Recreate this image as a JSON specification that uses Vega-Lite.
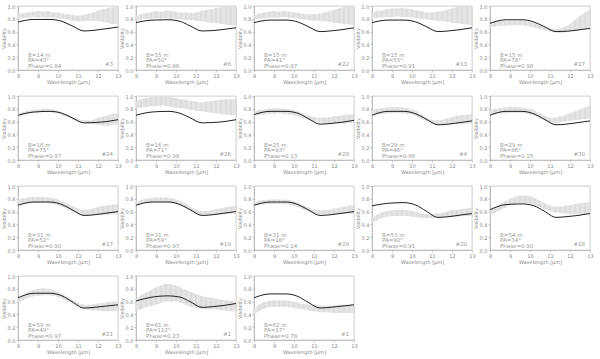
{
"$schema":"https://vega.github.io/schema/vega-lite/v6.json",
"padding":{"left":0,"top":3,"right":0,"bottom":0},
"background":"white",
"data":{"values":[
{"p":1,"k":"l","b":"B=14 m","pa":"PA=43°","ph":"Phase=0.84","n":"#3"},
{"p":2,"k":"l","b":"B=15 m","pa":"PA=50°","ph":"Phase=0.86","n":"#6"},
{"p":3,"k":"l","b":"B=15 m","pa":"PA=41°","ph":"Phase=0.97","n":"#22"},
{"p":4,"k":"l","b":"B=15 m","pa":"PA=55°","ph":"Phase=0.91","n":"#13"},
{"p":5,"k":"l","b":"B=15 m","pa":"PA=78°","ph":"Phase=0.98","n":"#27"},
{"p":6,"k":"l","b":"B=16 m","pa":"PA=75°","ph":"Phase=0.97","n":"#24"},
{"p":7,"k":"l","b":"B=16 m","pa":"PA=71°","ph":"Phase=0.98","n":"#26"},
{"p":8,"k":"l","b":"B=25 m","pa":"PA=93°","ph":"Phase=0.13","n":"#28"},
{"p":9,"k":"l","b":"B=29 m","pa":"PA=46°","ph":"Phase=0.86","n":"#4"},
{"p":10,"k":"l","b":"B=29 m","pa":"PA=86°","ph":"Phase=0.15","n":"#30"},
{"p":11,"k":"l","b":"B=31 m","pa":"PA=52°","ph":"Phase=0.90","n":"#17"},
{"p":12,"k":"l","b":"B=31 m","pa":"PA=59°","ph":"Phase=0.97","n":"#19"},
{"p":13,"k":"l","b":"B=31 m","pa":"PA=18°","ph":"Phase=0.14","n":"#29"},
{"p":14,"k":"l","b":"B=53 m","pa":"PA=90°","ph":"Phase=0.91","n":"#20"},
{"p":15,"k":"l","b":"B=54 m","pa":"PA=34°","ph":"Phase=0.90","n":"#18"},
{"p":16,"k":"l","b":"B=59 m","pa":"PA=49°","ph":"Phase=0.97","n":"#21"},
{"p":17,"k":"l","b":"B=61 m","pa":"PA=112°","ph":"Phase=0.23","n":"#1"},
{"p":18,"k":"l","b":"B=62 m","pa":"PA=17°","ph":"Phase=0.78","n":"#1"},

{"p":1,"k":"m","w":8,"v":0.75},{"p":1,"k":"m","w":8.8,"v":0.79},{"p":1,"k":"m","w":9.6,"v":0.79},{"p":1,"k":"m","w":10.2,"v":0.76},{"p":1,"k":"m","w":10.7,"v":0.69},{"p":1,"k":"m","w":11.3,"v":0.61},{"p":1,"k":"m","w":11.8,"v":0.62},{"p":1,"k":"m","w":12.4,"v":0.645},{"p":1,"k":"m","w":13,"v":0.67},
{"p":2,"k":"m","w":8,"v":0.74},{"p":2,"k":"m","w":8.8,"v":0.78},{"p":2,"k":"m","w":9.6,"v":0.785},{"p":2,"k":"m","w":10.2,"v":0.76},{"p":2,"k":"m","w":10.7,"v":0.69},{"p":2,"k":"m","w":11.3,"v":0.61},{"p":2,"k":"m","w":11.8,"v":0.615},{"p":2,"k":"m","w":12.4,"v":0.635},{"p":2,"k":"m","w":13,"v":0.66},
{"p":3,"k":"m","w":8,"v":0.74},{"p":3,"k":"m","w":8.8,"v":0.78},{"p":3,"k":"m","w":9.6,"v":0.78},{"p":3,"k":"m","w":10.2,"v":0.75},{"p":3,"k":"m","w":10.7,"v":0.68},{"p":3,"k":"m","w":11.3,"v":0.60},{"p":3,"k":"m","w":11.8,"v":0.61},{"p":3,"k":"m","w":12.4,"v":0.63},{"p":3,"k":"m","w":13,"v":0.66},
{"p":4,"k":"m","w":8,"v":0.74},{"p":4,"k":"m","w":8.8,"v":0.78},{"p":4,"k":"m","w":9.6,"v":0.78},{"p":4,"k":"m","w":10.2,"v":0.75},{"p":4,"k":"m","w":10.7,"v":0.68},{"p":4,"k":"m","w":11.3,"v":0.60},{"p":4,"k":"m","w":11.8,"v":0.61},{"p":4,"k":"m","w":12.4,"v":0.63},{"p":4,"k":"m","w":13,"v":0.66},
{"p":5,"k":"m","w":8,"v":0.73},{"p":5,"k":"m","w":8.8,"v":0.785},{"p":5,"k":"m","w":9.6,"v":0.785},{"p":5,"k":"m","w":10.2,"v":0.75},{"p":5,"k":"m","w":10.7,"v":0.68},{"p":5,"k":"m","w":11.3,"v":0.60},{"p":5,"k":"m","w":11.8,"v":0.605},{"p":5,"k":"m","w":12.4,"v":0.625},{"p":5,"k":"m","w":13,"v":0.65},
{"p":6,"k":"m","w":8,"v":0.70},{"p":6,"k":"m","w":8.8,"v":0.75},{"p":6,"k":"m","w":9.6,"v":0.76},{"p":6,"k":"m","w":10.2,"v":0.73},{"p":6,"k":"m","w":10.7,"v":0.66},{"p":6,"k":"m","w":11.3,"v":0.58},{"p":6,"k":"m","w":11.8,"v":0.585},{"p":6,"k":"m","w":12.4,"v":0.60},{"p":6,"k":"m","w":13,"v":0.63},
{"p":7,"k":"m","w":8,"v":0.70},{"p":7,"k":"m","w":8.8,"v":0.75},{"p":7,"k":"m","w":9.6,"v":0.76},{"p":7,"k":"m","w":10.2,"v":0.73},{"p":7,"k":"m","w":10.7,"v":0.66},{"p":7,"k":"m","w":11.3,"v":0.58},{"p":7,"k":"m","w":11.8,"v":0.585},{"p":7,"k":"m","w":12.4,"v":0.60},{"p":7,"k":"m","w":13,"v":0.63},
{"p":8,"k":"m","w":8,"v":0.71},{"p":8,"k":"m","w":8.8,"v":0.76},{"p":8,"k":"m","w":9.6,"v":0.76},{"p":8,"k":"m","w":10.2,"v":0.73},{"p":8,"k":"m","w":10.7,"v":0.65},{"p":8,"k":"m","w":11.3,"v":0.56},{"p":8,"k":"m","w":11.8,"v":0.57},{"p":8,"k":"m","w":12.4,"v":0.59},{"p":8,"k":"m","w":13,"v":0.62},
{"p":9,"k":"m","w":8,"v":0.70},{"p":9,"k":"m","w":8.8,"v":0.76},{"p":9,"k":"m","w":9.6,"v":0.76},{"p":9,"k":"m","w":10.2,"v":0.72},{"p":9,"k":"m","w":10.7,"v":0.64},{"p":9,"k":"m","w":11.3,"v":0.55},{"p":9,"k":"m","w":11.8,"v":0.56},{"p":9,"k":"m","w":12.4,"v":0.585},{"p":9,"k":"m","w":13,"v":0.61},
{"p":10,"k":"m","w":8,"v":0.70},{"p":10,"k":"m","w":8.8,"v":0.76},{"p":10,"k":"m","w":9.6,"v":0.76},{"p":10,"k":"m","w":10.2,"v":0.72},{"p":10,"k":"m","w":10.7,"v":0.64},{"p":10,"k":"m","w":11.3,"v":0.55},{"p":10,"k":"m","w":11.8,"v":0.56},{"p":10,"k":"m","w":12.4,"v":0.585},{"p":10,"k":"m","w":13,"v":0.61},
{"p":11,"k":"m","w":8,"v":0.70},{"p":11,"k":"m","w":8.8,"v":0.75},{"p":11,"k":"m","w":9.6,"v":0.75},{"p":11,"k":"m","w":10.2,"v":0.71},{"p":11,"k":"m","w":10.7,"v":0.63},{"p":11,"k":"m","w":11.3,"v":0.54},{"p":11,"k":"m","w":11.8,"v":0.55},{"p":11,"k":"m","w":12.4,"v":0.575},{"p":11,"k":"m","w":13,"v":0.60},
{"p":12,"k":"m","w":8,"v":0.70},{"p":12,"k":"m","w":8.8,"v":0.75},{"p":12,"k":"m","w":9.6,"v":0.75},{"p":12,"k":"m","w":10.2,"v":0.71},{"p":12,"k":"m","w":10.7,"v":0.63},{"p":12,"k":"m","w":11.3,"v":0.54},{"p":12,"k":"m","w":11.8,"v":0.55},{"p":12,"k":"m","w":12.4,"v":0.575},{"p":12,"k":"m","w":13,"v":0.60},
{"p":13,"k":"m","w":8,"v":0.70},{"p":13,"k":"m","w":8.8,"v":0.75},{"p":13,"k":"m","w":9.6,"v":0.75},{"p":13,"k":"m","w":10.2,"v":0.71},{"p":13,"k":"m","w":10.7,"v":0.63},{"p":13,"k":"m","w":11.3,"v":0.54},{"p":13,"k":"m","w":11.8,"v":0.55},{"p":13,"k":"m","w":12.4,"v":0.575},{"p":13,"k":"m","w":13,"v":0.60},
{"p":14,"k":"m","w":8,"v":0.69},{"p":14,"k":"m","w":8.8,"v":0.73},{"p":14,"k":"m","w":9.6,"v":0.74},{"p":14,"k":"m","w":10.2,"v":0.70},{"p":14,"k":"m","w":10.7,"v":0.61},{"p":14,"k":"m","w":11.3,"v":0.51},{"p":14,"k":"m","w":11.8,"v":0.52},{"p":14,"k":"m","w":12.4,"v":0.545},{"p":14,"k":"m","w":13,"v":0.57},
{"p":15,"k":"m","w":8,"v":0.63},{"p":15,"k":"m","w":8.8,"v":0.71},{"p":15,"k":"m","w":9.6,"v":0.72},{"p":15,"k":"m","w":10.2,"v":0.69},{"p":15,"k":"m","w":10.7,"v":0.61},{"p":15,"k":"m","w":11.3,"v":0.51},{"p":15,"k":"m","w":11.8,"v":0.52},{"p":15,"k":"m","w":12.4,"v":0.54},{"p":15,"k":"m","w":13,"v":0.57},
{"p":16,"k":"m","w":8,"v":0.66},{"p":16,"k":"m","w":8.8,"v":0.73},{"p":16,"k":"m","w":9.6,"v":0.73},{"p":16,"k":"m","w":10.2,"v":0.69},{"p":16,"k":"m","w":10.7,"v":0.60},{"p":16,"k":"m","w":11.3,"v":0.50},{"p":16,"k":"m","w":11.8,"v":0.51},{"p":16,"k":"m","w":12.4,"v":0.53},{"p":16,"k":"m","w":13,"v":0.55},
{"p":17,"k":"m","w":8,"v":0.61},{"p":17,"k":"m","w":8.8,"v":0.67},{"p":17,"k":"m","w":9.6,"v":0.69},{"p":17,"k":"m","w":10.2,"v":0.67},{"p":17,"k":"m","w":10.7,"v":0.60},{"p":17,"k":"m","w":11.3,"v":0.51},{"p":17,"k":"m","w":11.8,"v":0.52},{"p":17,"k":"m","w":12.4,"v":0.54},{"p":17,"k":"m","w":13,"v":0.57},
{"p":18,"k":"m","w":8,"v":0.66},{"p":18,"k":"m","w":8.8,"v":0.72},{"p":18,"k":"m","w":9.6,"v":0.72},{"p":18,"k":"m","w":10.2,"v":0.68},{"p":18,"k":"m","w":10.7,"v":0.59},{"p":18,"k":"m","w":11.3,"v":0.50},{"p":18,"k":"m","w":11.8,"v":0.51},{"p":18,"k":"m","w":12.4,"v":0.53},{"p":18,"k":"m","w":13,"v":0.55},

{"p":1,"k":"d","w":8,"lo":0.80,"hi":0.87},{"p":1,"k":"d","w":8.25,"lo":0.81,"hi":0.89},{"p":1,"k":"d","w":8.5,"lo":0.82,"hi":0.90},{"p":1,"k":"d","w":8.75,"lo":0.83,"hi":0.91},{"p":1,"k":"d","w":9,"lo":0.82,"hi":0.92},{"p":1,"k":"d","w":9.25,"lo":0.83,"hi":0.91},{"p":1,"k":"d","w":9.5,"lo":0.82,"hi":0.92},{"p":1,"k":"d","w":9.75,"lo":0.82,"hi":0.90},{"p":1,"k":"d","w":10,"lo":0.81,"hi":0.90},{"p":1,"k":"d","w":10.25,"lo":0.80,"hi":0.88},{"p":1,"k":"d","w":10.5,"lo":0.79,"hi":0.87},{"p":1,"k":"d","w":10.75,"lo":0.77,"hi":0.86},{"p":1,"k":"d","w":11,"lo":0.76,"hi":0.85},{"p":1,"k":"d","w":11.25,"lo":0.76,"hi":0.86},{"p":1,"k":"d","w":11.5,"lo":0.77,"hi":0.88},{"p":1,"k":"d","w":11.75,"lo":0.77,"hi":0.90},{"p":1,"k":"d","w":12,"lo":0.76,"hi":0.93},{"p":1,"k":"d","w":12.25,"lo":0.75,"hi":0.95},{"p":1,"k":"d","w":12.5,"lo":0.74,"hi":0.97},{"p":1,"k":"d","w":12.75,"lo":0.72,"hi":0.98},{"p":1,"k":"d","w":13,"lo":0.72,"hi":1.0},
{"p":2,"k":"d","w":8,"lo":0.78,"hi":0.85},{"p":2,"k":"d","w":8.25,"lo":0.79,"hi":0.87},{"p":2,"k":"d","w":8.5,"lo":0.80,"hi":0.89},{"p":2,"k":"d","w":8.75,"lo":0.80,"hi":0.90},{"p":2,"k":"d","w":9,"lo":0.81,"hi":0.92},{"p":2,"k":"d","w":9.25,"lo":0.80,"hi":0.91},{"p":2,"k":"d","w":9.5,"lo":0.81,"hi":0.93},{"p":2,"k":"d","w":9.75,"lo":0.80,"hi":0.92},{"p":2,"k":"d","w":10,"lo":0.80,"hi":0.91},{"p":2,"k":"d","w":10.25,"lo":0.79,"hi":0.90},{"p":2,"k":"d","w":10.5,"lo":0.78,"hi":0.90},{"p":2,"k":"d","w":10.75,"lo":0.78,"hi":0.89},{"p":2,"k":"d","w":11,"lo":0.77,"hi":0.90},{"p":2,"k":"d","w":11.25,"lo":0.76,"hi":0.92},{"p":2,"k":"d","w":11.5,"lo":0.75,"hi":0.94},{"p":2,"k":"d","w":11.75,"lo":0.74,"hi":0.95},{"p":2,"k":"d","w":12,"lo":0.73,"hi":0.97},{"p":2,"k":"d","w":12.25,"lo":0.72,"hi":0.98},{"p":2,"k":"d","w":12.5,"lo":0.71,"hi":1.0},{"p":2,"k":"d","w":12.75,"lo":0.70,"hi":0.99},{"p":2,"k":"d","w":13,"lo":0.70,"hi":1.0},
{"p":3,"k":"d","w":8,"lo":0.79,"hi":0.86},{"p":3,"k":"d","w":8.25,"lo":0.80,"hi":0.88},{"p":3,"k":"d","w":8.5,"lo":0.81,"hi":0.90},{"p":3,"k":"d","w":8.75,"lo":0.82,"hi":0.91},{"p":3,"k":"d","w":9,"lo":0.82,"hi":0.92},{"p":3,"k":"d","w":9.25,"lo":0.82,"hi":0.91},{"p":3,"k":"d","w":9.5,"lo":0.83,"hi":0.92},{"p":3,"k":"d","w":9.75,"lo":0.82,"hi":0.91},{"p":3,"k":"d","w":10,"lo":0.81,"hi":0.90},{"p":3,"k":"d","w":10.25,"lo":0.80,"hi":0.89},{"p":3,"k":"d","w":10.5,"lo":0.79,"hi":0.88},{"p":3,"k":"d","w":10.75,"lo":0.78,"hi":0.87},{"p":3,"k":"d","w":11,"lo":0.77,"hi":0.87},{"p":3,"k":"d","w":11.25,"lo":0.77,"hi":0.88},{"p":3,"k":"d","w":11.5,"lo":0.76,"hi":0.90},{"p":3,"k":"d","w":11.75,"lo":0.75,"hi":0.92},{"p":3,"k":"d","w":12,"lo":0.74,"hi":0.94},{"p":3,"k":"d","w":12.25,"lo":0.73,"hi":0.96},{"p":3,"k":"d","w":12.5,"lo":0.72,"hi":0.98},{"p":3,"k":"d","w":12.75,"lo":0.71,"hi":0.99},{"p":3,"k":"d","w":13,"lo":0.70,"hi":1.0},
{"p":4,"k":"d","w":8,"lo":0.80,"hi":0.90},{"p":4,"k":"d","w":8.25,"lo":0.81,"hi":0.92},{"p":4,"k":"d","w":8.5,"lo":0.82,"hi":0.93},{"p":4,"k":"d","w":8.75,"lo":0.83,"hi":0.95},{"p":4,"k":"d","w":9,"lo":0.83,"hi":0.96},{"p":4,"k":"d","w":9.25,"lo":0.84,"hi":0.96},{"p":4,"k":"d","w":9.5,"lo":0.83,"hi":0.97},{"p":4,"k":"d","w":9.75,"lo":0.83,"hi":0.96},{"p":4,"k":"d","w":10,"lo":0.82,"hi":0.95},{"p":4,"k":"d","w":10.25,"lo":0.81,"hi":0.93},{"p":4,"k":"d","w":10.5,"lo":0.80,"hi":0.92},{"p":4,"k":"d","w":10.75,"lo":0.79,"hi":0.90},{"p":4,"k":"d","w":11,"lo":0.78,"hi":0.90},{"p":4,"k":"d","w":11.25,"lo":0.77,"hi":0.91},{"p":4,"k":"d","w":11.5,"lo":0.76,"hi":0.92},{"p":4,"k":"d","w":11.75,"lo":0.75,"hi":0.94},{"p":4,"k":"d","w":12,"lo":0.74,"hi":0.96},{"p":4,"k":"d","w":12.25,"lo":0.73,"hi":0.98},{"p":4,"k":"d","w":12.5,"lo":0.72,"hi":0.99},{"p":4,"k":"d","w":12.75,"lo":0.71,"hi":1.0},{"p":4,"k":"d","w":13,"lo":0.70,"hi":1.0},
{"p":5,"k":"d","w":8,"lo":0.67,"hi":0.73},{"p":5,"k":"d","w":8.25,"lo":0.68,"hi":0.75},{"p":5,"k":"d","w":8.5,"lo":0.69,"hi":0.76},{"p":5,"k":"d","w":8.75,"lo":0.69,"hi":0.76},{"p":5,"k":"d","w":9,"lo":0.70,"hi":0.77},{"p":5,"k":"d","w":9.25,"lo":0.70,"hi":0.77},{"p":5,"k":"d","w":9.5,"lo":0.70,"hi":0.77},{"p":5,"k":"d","w":9.75,"lo":0.69,"hi":0.76},{"p":5,"k":"d","w":10,"lo":0.68,"hi":0.75},{"p":5,"k":"d","w":10.25,"lo":0.66,"hi":0.73},{"p":5,"k":"d","w":10.5,"lo":0.64,"hi":0.70},{"p":5,"k":"d","w":10.75,"lo":0.62,"hi":0.67},{"p":5,"k":"d","w":11,"lo":0.60,"hi":0.65},{"p":5,"k":"d","w":11.25,"lo":0.59,"hi":0.64},{"p":5,"k":"d","w":11.5,"lo":0.58,"hi":0.65},{"p":5,"k":"d","w":11.75,"lo":0.59,"hi":0.68},{"p":5,"k":"d","w":12,"lo":0.60,"hi":0.72},{"p":5,"k":"d","w":12.25,"lo":0.61,"hi":0.78},{"p":5,"k":"d","w":12.5,"lo":0.62,"hi":0.85},{"p":5,"k":"d","w":12.75,"lo":0.64,"hi":0.90},{"p":5,"k":"d","w":13,"lo":0.65,"hi":0.95},
{"p":6,"k":"d","w":8,"lo":0.68,"hi":0.73},{"p":6,"k":"d","w":8.25,"lo":0.70,"hi":0.75},{"p":6,"k":"d","w":8.5,"lo":0.72,"hi":0.77},{"p":6,"k":"d","w":8.75,"lo":0.74,"hi":0.78},{"p":6,"k":"d","w":9,"lo":0.74,"hi":0.79},{"p":6,"k":"d","w":9.25,"lo":0.75,"hi":0.80},{"p":6,"k":"d","w":9.5,"lo":0.75,"hi":0.80},{"p":6,"k":"d","w":9.75,"lo":0.74,"hi":0.79},{"p":6,"k":"d","w":10,"lo":0.73,"hi":0.77},{"p":6,"k":"d","w":10.25,"lo":0.70,"hi":0.74},{"p":6,"k":"d","w":10.5,"lo":0.67,"hi":0.71},{"p":6,"k":"d","w":10.75,"lo":0.63,"hi":0.67},{"p":6,"k":"d","w":11,"lo":0.60,"hi":0.64},{"p":6,"k":"d","w":11.25,"lo":0.58,"hi":0.62},{"p":6,"k":"d","w":11.5,"lo":0.57,"hi":0.62},{"p":6,"k":"d","w":11.75,"lo":0.56,"hi":0.63},{"p":6,"k":"d","w":12,"lo":0.55,"hi":0.66},{"p":6,"k":"d","w":12.25,"lo":0.54,"hi":0.68},{"p":6,"k":"d","w":12.5,"lo":0.54,"hi":0.70},{"p":6,"k":"d","w":12.75,"lo":0.55,"hi":0.72},{"p":6,"k":"d","w":13,"lo":0.56,"hi":0.73},
{"p":7,"k":"d","w":8,"lo":0.80,"hi":0.92},{"p":7,"k":"d","w":8.25,"lo":0.82,"hi":0.95},{"p":7,"k":"d","w":8.5,"lo":0.83,"hi":0.97},{"p":7,"k":"d","w":8.75,"lo":0.84,"hi":0.98},{"p":7,"k":"d","w":9,"lo":0.84,"hi":1.0},{"p":7,"k":"d","w":9.25,"lo":0.85,"hi":0.99},{"p":7,"k":"d","w":9.5,"lo":0.84,"hi":1.0},{"p":7,"k":"d","w":9.75,"lo":0.83,"hi":0.98},{"p":7,"k":"d","w":10,"lo":0.82,"hi":0.97},{"p":7,"k":"d","w":10.25,"lo":0.81,"hi":0.95},{"p":7,"k":"d","w":10.5,"lo":0.80,"hi":0.94},{"p":7,"k":"d","w":10.75,"lo":0.78,"hi":0.92},{"p":7,"k":"d","w":11,"lo":0.77,"hi":0.91},{"p":7,"k":"d","w":11.25,"lo":0.76,"hi":0.90},{"p":7,"k":"d","w":11.5,"lo":0.75,"hi":0.91},{"p":7,"k":"d","w":11.75,"lo":0.74,"hi":0.92},{"p":7,"k":"d","w":12,"lo":0.73,"hi":0.93},{"p":7,"k":"d","w":12.25,"lo":0.72,"hi":0.94},{"p":7,"k":"d","w":12.5,"lo":0.71,"hi":0.95},{"p":7,"k":"d","w":12.75,"lo":0.70,"hi":0.95},{"p":7,"k":"d","w":13,"lo":0.70,"hi":0.96},
{"p":8,"k":"d","w":8,"lo":0.69,"hi":0.76},{"p":8,"k":"d","w":8.25,"lo":0.70,"hi":0.78},{"p":8,"k":"d","w":8.5,"lo":0.71,"hi":0.79},{"p":8,"k":"d","w":8.75,"lo":0.72,"hi":0.80},{"p":8,"k":"d","w":9,"lo":0.72,"hi":0.81},{"p":8,"k":"d","w":9.25,"lo":0.73,"hi":0.81},{"p":8,"k":"d","w":9.5,"lo":0.72,"hi":0.80},{"p":8,"k":"d","w":9.75,"lo":0.71,"hi":0.79},{"p":8,"k":"d","w":10,"lo":0.70,"hi":0.78},{"p":8,"k":"d","w":10.25,"lo":0.68,"hi":0.75},{"p":8,"k":"d","w":10.5,"lo":0.65,"hi":0.72},{"p":8,"k":"d","w":10.75,"lo":0.62,"hi":0.69},{"p":8,"k":"d","w":11,"lo":0.60,"hi":0.67},{"p":8,"k":"d","w":11.25,"lo":0.59,"hi":0.66},{"p":8,"k":"d","w":11.5,"lo":0.58,"hi":0.66},{"p":8,"k":"d","w":11.75,"lo":0.58,"hi":0.67},{"p":8,"k":"d","w":12,"lo":0.57,"hi":0.68},{"p":8,"k":"d","w":12.25,"lo":0.57,"hi":0.69},{"p":8,"k":"d","w":12.5,"lo":0.57,"hi":0.70},{"p":8,"k":"d","w":12.75,"lo":0.58,"hi":0.71},{"p":8,"k":"d","w":13,"lo":0.58,"hi":0.72},
{"p":9,"k":"d","w":8,"lo":0.70,"hi":0.78},{"p":9,"k":"d","w":8.25,"lo":0.71,"hi":0.80},{"p":9,"k":"d","w":8.5,"lo":0.72,"hi":0.81},{"p":9,"k":"d","w":8.75,"lo":0.73,"hi":0.82},{"p":9,"k":"d","w":9,"lo":0.73,"hi":0.83},{"p":9,"k":"d","w":9.25,"lo":0.74,"hi":0.83},{"p":9,"k":"d","w":9.5,"lo":0.73,"hi":0.82},{"p":9,"k":"d","w":9.75,"lo":0.72,"hi":0.81},{"p":9,"k":"d","w":10,"lo":0.71,"hi":0.79},{"p":9,"k":"d","w":10.25,"lo":0.68,"hi":0.76},{"p":9,"k":"d","w":10.5,"lo":0.64,"hi":0.71},{"p":9,"k":"d","w":10.75,"lo":0.60,"hi":0.66},{"p":9,"k":"d","w":11,"lo":0.57,"hi":0.63},{"p":9,"k":"d","w":11.25,"lo":0.56,"hi":0.62},{"p":9,"k":"d","w":11.5,"lo":0.56,"hi":0.63},{"p":9,"k":"d","w":11.75,"lo":0.56,"hi":0.65},{"p":9,"k":"d","w":12,"lo":0.56,"hi":0.67},{"p":9,"k":"d","w":12.25,"lo":0.56,"hi":0.69},{"p":9,"k":"d","w":12.5,"lo":0.56,"hi":0.70},{"p":9,"k":"d","w":12.75,"lo":0.57,"hi":0.71},{"p":9,"k":"d","w":13,"lo":0.57,"hi":0.72},
{"p":10,"k":"d","w":8,"lo":0.70,"hi":0.78},{"p":10,"k":"d","w":8.25,"lo":0.71,"hi":0.80},{"p":10,"k":"d","w":8.5,"lo":0.73,"hi":0.81},{"p":10,"k":"d","w":8.75,"lo":0.73,"hi":0.82},{"p":10,"k":"d","w":9,"lo":0.74,"hi":0.83},{"p":10,"k":"d","w":9.25,"lo":0.74,"hi":0.83},{"p":10,"k":"d","w":9.5,"lo":0.74,"hi":0.82},{"p":10,"k":"d","w":9.75,"lo":0.73,"hi":0.81},{"p":10,"k":"d","w":10,"lo":0.71,"hi":0.80},{"p":10,"k":"d","w":10.25,"lo":0.69,"hi":0.77},{"p":10,"k":"d","w":10.5,"lo":0.65,"hi":0.73},{"p":10,"k":"d","w":10.75,"lo":0.62,"hi":0.69},{"p":10,"k":"d","w":11,"lo":0.59,"hi":0.66},{"p":10,"k":"d","w":11.25,"lo":0.58,"hi":0.66},{"p":10,"k":"d","w":11.5,"lo":0.59,"hi":0.68},{"p":10,"k":"d","w":11.75,"lo":0.60,"hi":0.70},{"p":10,"k":"d","w":12,"lo":0.61,"hi":0.73},{"p":10,"k":"d","w":12.25,"lo":0.62,"hi":0.76},{"p":10,"k":"d","w":12.5,"lo":0.63,"hi":0.79},{"p":10,"k":"d","w":12.75,"lo":0.64,"hi":0.82},{"p":10,"k":"d","w":13,"lo":0.65,"hi":0.85},
{"p":11,"k":"d","w":8,"lo":0.70,"hi":0.79},{"p":11,"k":"d","w":8.25,"lo":0.72,"hi":0.81},{"p":11,"k":"d","w":8.5,"lo":0.73,"hi":0.82},{"p":11,"k":"d","w":8.75,"lo":0.74,"hi":0.83},{"p":11,"k":"d","w":9,"lo":0.74,"hi":0.83},{"p":11,"k":"d","w":9.25,"lo":0.74,"hi":0.83},{"p":11,"k":"d","w":9.5,"lo":0.73,"hi":0.82},{"p":11,"k":"d","w":9.75,"lo":0.72,"hi":0.81},{"p":11,"k":"d","w":10,"lo":0.70,"hi":0.79},{"p":11,"k":"d","w":10.25,"lo":0.67,"hi":0.76},{"p":11,"k":"d","w":10.5,"lo":0.63,"hi":0.72},{"p":11,"k":"d","w":10.75,"lo":0.59,"hi":0.68},{"p":11,"k":"d","w":11,"lo":0.56,"hi":0.65},{"p":11,"k":"d","w":11.25,"lo":0.55,"hi":0.63},{"p":11,"k":"d","w":11.5,"lo":0.55,"hi":0.63},{"p":11,"k":"d","w":11.75,"lo":0.55,"hi":0.65},{"p":11,"k":"d","w":12,"lo":0.55,"hi":0.67},{"p":11,"k":"d","w":12.25,"lo":0.55,"hi":0.69},{"p":11,"k":"d","w":12.5,"lo":0.55,"hi":0.70},{"p":11,"k":"d","w":12.75,"lo":0.56,"hi":0.71},{"p":11,"k":"d","w":13,"lo":0.56,"hi":0.72},
{"p":12,"k":"d","w":8,"lo":0.70,"hi":0.76},{"p":12,"k":"d","w":8.25,"lo":0.72,"hi":0.78},{"p":12,"k":"d","w":8.5,"lo":0.73,"hi":0.80},{"p":12,"k":"d","w":8.75,"lo":0.74,"hi":0.81},{"p":12,"k":"d","w":9,"lo":0.75,"hi":0.82},{"p":12,"k":"d","w":9.25,"lo":0.75,"hi":0.82},{"p":12,"k":"d","w":9.5,"lo":0.75,"hi":0.82},{"p":12,"k":"d","w":9.75,"lo":0.74,"hi":0.81},{"p":12,"k":"d","w":10,"lo":0.72,"hi":0.79},{"p":12,"k":"d","w":10.25,"lo":0.69,"hi":0.76},{"p":12,"k":"d","w":10.5,"lo":0.65,"hi":0.72},{"p":12,"k":"d","w":10.75,"lo":0.61,"hi":0.67},{"p":12,"k":"d","w":11,"lo":0.57,"hi":0.63},{"p":12,"k":"d","w":11.25,"lo":0.55,"hi":0.61},{"p":12,"k":"d","w":11.5,"lo":0.55,"hi":0.61},{"p":12,"k":"d","w":11.75,"lo":0.55,"hi":0.62},{"p":12,"k":"d","w":12,"lo":0.55,"hi":0.64},{"p":12,"k":"d","w":12.25,"lo":0.56,"hi":0.65},{"p":12,"k":"d","w":12.5,"lo":0.56,"hi":0.67},{"p":12,"k":"d","w":12.75,"lo":0.57,"hi":0.68},{"p":12,"k":"d","w":13,"lo":0.57,"hi":0.69},
{"p":13,"k":"d","w":8,"lo":0.68,"hi":0.75},{"p":13,"k":"d","w":8.25,"lo":0.70,"hi":0.77},{"p":13,"k":"d","w":8.5,"lo":0.71,"hi":0.78},{"p":13,"k":"d","w":8.75,"lo":0.72,"hi":0.79},{"p":13,"k":"d","w":9,"lo":0.72,"hi":0.79},{"p":13,"k":"d","w":9.25,"lo":0.72,"hi":0.79},{"p":13,"k":"d","w":9.5,"lo":0.72,"hi":0.79},{"p":13,"k":"d","w":9.75,"lo":0.71,"hi":0.78},{"p":13,"k":"d","w":10,"lo":0.69,"hi":0.76},{"p":13,"k":"d","w":10.25,"lo":0.66,"hi":0.73},{"p":13,"k":"d","w":10.5,"lo":0.63,"hi":0.69},{"p":13,"k":"d","w":10.75,"lo":0.60,"hi":0.66},{"p":13,"k":"d","w":11,"lo":0.58,"hi":0.63},{"p":13,"k":"d","w":11.25,"lo":0.56,"hi":0.62},{"p":13,"k":"d","w":11.5,"lo":0.56,"hi":0.62},{"p":13,"k":"d","w":11.75,"lo":0.56,"hi":0.63},{"p":13,"k":"d","w":12,"lo":0.56,"hi":0.65},{"p":13,"k":"d","w":12.25,"lo":0.56,"hi":0.66},{"p":13,"k":"d","w":12.5,"lo":0.56,"hi":0.68},{"p":13,"k":"d","w":12.75,"lo":0.57,"hi":0.69},{"p":13,"k":"d","w":13,"lo":0.57,"hi":0.70},
{"p":14,"k":"d","w":8,"lo":0.42,"hi":0.50},{"p":14,"k":"d","w":8.25,"lo":0.46,"hi":0.55},{"p":14,"k":"d","w":8.5,"lo":0.50,"hi":0.59},{"p":14,"k":"d","w":8.75,"lo":0.52,"hi":0.61},{"p":14,"k":"d","w":9,"lo":0.53,"hi":0.62},{"p":14,"k":"d","w":9.25,"lo":0.53,"hi":0.63},{"p":14,"k":"d","w":9.5,"lo":0.53,"hi":0.63},{"p":14,"k":"d","w":9.75,"lo":0.53,"hi":0.62},{"p":14,"k":"d","w":10,"lo":0.52,"hi":0.61},{"p":14,"k":"d","w":10.25,"lo":0.51,"hi":0.59},{"p":14,"k":"d","w":10.5,"lo":0.50,"hi":0.57},{"p":14,"k":"d","w":10.75,"lo":0.50,"hi":0.56},{"p":14,"k":"d","w":11,"lo":0.50,"hi":0.56},{"p":14,"k":"d","w":11.25,"lo":0.51,"hi":0.57},{"p":14,"k":"d","w":11.5,"lo":0.52,"hi":0.58},{"p":14,"k":"d","w":11.75,"lo":0.52,"hi":0.60},{"p":14,"k":"d","w":12,"lo":0.52,"hi":0.62},{"p":14,"k":"d","w":12.25,"lo":0.52,"hi":0.63},{"p":14,"k":"d","w":12.5,"lo":0.53,"hi":0.64},{"p":14,"k":"d","w":12.75,"lo":0.53,"hi":0.65},{"p":14,"k":"d","w":13,"lo":0.53,"hi":0.66},
{"p":15,"k":"d","w":8,"lo":0.55,"hi":0.62},{"p":15,"k":"d","w":8.25,"lo":0.58,"hi":0.66},{"p":15,"k":"d","w":8.5,"lo":0.62,"hi":0.71},{"p":15,"k":"d","w":8.75,"lo":0.66,"hi":0.76},{"p":15,"k":"d","w":9,"lo":0.70,"hi":0.80},{"p":15,"k":"d","w":9.25,"lo":0.72,"hi":0.83},{"p":15,"k":"d","w":9.5,"lo":0.73,"hi":0.85},{"p":15,"k":"d","w":9.75,"lo":0.73,"hi":0.85},{"p":15,"k":"d","w":10,"lo":0.72,"hi":0.84},{"p":15,"k":"d","w":10.25,"lo":0.70,"hi":0.81},{"p":15,"k":"d","w":10.5,"lo":0.67,"hi":0.77},{"p":15,"k":"d","w":10.75,"lo":0.64,"hi":0.73},{"p":15,"k":"d","w":11,"lo":0.61,"hi":0.70},{"p":15,"k":"d","w":11.25,"lo":0.59,"hi":0.68},{"p":15,"k":"d","w":11.5,"lo":0.58,"hi":0.68},{"p":15,"k":"d","w":11.75,"lo":0.57,"hi":0.69},{"p":15,"k":"d","w":12,"lo":0.56,"hi":0.70},{"p":15,"k":"d","w":12.25,"lo":0.56,"hi":0.72},{"p":15,"k":"d","w":12.5,"lo":0.56,"hi":0.73},{"p":15,"k":"d","w":12.75,"lo":0.56,"hi":0.74},{"p":15,"k":"d","w":13,"lo":0.57,"hi":0.75},
{"p":16,"k":"d","w":8,"lo":0.58,"hi":0.66},{"p":16,"k":"d","w":8.25,"lo":0.62,"hi":0.70},{"p":16,"k":"d","w":8.5,"lo":0.66,"hi":0.75},{"p":16,"k":"d","w":8.75,"lo":0.68,"hi":0.78},{"p":16,"k":"d","w":9,"lo":0.69,"hi":0.80},{"p":16,"k":"d","w":9.25,"lo":0.70,"hi":0.81},{"p":16,"k":"d","w":9.5,"lo":0.70,"hi":0.80},{"p":16,"k":"d","w":9.75,"lo":0.69,"hi":0.78},{"p":16,"k":"d","w":10,"lo":0.67,"hi":0.75},{"p":16,"k":"d","w":10.25,"lo":0.64,"hi":0.71},{"p":16,"k":"d","w":10.5,"lo":0.60,"hi":0.67},{"p":16,"k":"d","w":10.75,"lo":0.56,"hi":0.62},{"p":16,"k":"d","w":11,"lo":0.52,"hi":0.58},{"p":16,"k":"d","w":11.25,"lo":0.49,"hi":0.56},{"p":16,"k":"d","w":11.5,"lo":0.47,"hi":0.55},{"p":16,"k":"d","w":11.75,"lo":0.46,"hi":0.56},{"p":16,"k":"d","w":12,"lo":0.46,"hi":0.57},{"p":16,"k":"d","w":12.25,"lo":0.45,"hi":0.58},{"p":16,"k":"d","w":12.5,"lo":0.45,"hi":0.59},{"p":16,"k":"d","w":12.75,"lo":0.45,"hi":0.60},{"p":16,"k":"d","w":13,"lo":0.46,"hi":0.60},
{"p":17,"k":"d","w":8,"lo":0.45,"hi":0.65},{"p":17,"k":"d","w":8.25,"lo":0.48,"hi":0.70},{"p":17,"k":"d","w":8.5,"lo":0.51,"hi":0.74},{"p":17,"k":"d","w":8.75,"lo":0.53,"hi":0.78},{"p":17,"k":"d","w":9,"lo":0.55,"hi":0.82},{"p":17,"k":"d","w":9.25,"lo":0.58,"hi":0.85},{"p":17,"k":"d","w":9.5,"lo":0.60,"hi":0.88},{"p":17,"k":"d","w":9.75,"lo":0.60,"hi":0.87},{"p":17,"k":"d","w":10,"lo":0.60,"hi":0.85},{"p":17,"k":"d","w":10.25,"lo":0.58,"hi":0.82},{"p":17,"k":"d","w":10.5,"lo":0.55,"hi":0.78},{"p":17,"k":"d","w":10.75,"lo":0.52,"hi":0.75},{"p":17,"k":"d","w":11,"lo":0.50,"hi":0.72},{"p":17,"k":"d","w":11.25,"lo":0.49,"hi":0.69},{"p":17,"k":"d","w":11.5,"lo":0.48,"hi":0.67},{"p":17,"k":"d","w":11.75,"lo":0.48,"hi":0.66},{"p":17,"k":"d","w":12,"lo":0.48,"hi":0.65},{"p":17,"k":"d","w":12.25,"lo":0.47,"hi":0.63},{"p":17,"k":"d","w":12.5,"lo":0.46,"hi":0.62},{"p":17,"k":"d","w":12.75,"lo":0.45,"hi":0.61},{"p":17,"k":"d","w":13,"lo":0.45,"hi":0.60},
{"p":18,"k":"d","w":8,"lo":0.40,"hi":0.48},{"p":18,"k":"d","w":8.25,"lo":0.45,"hi":0.55},{"p":18,"k":"d","w":8.5,"lo":0.49,"hi":0.59},{"p":18,"k":"d","w":8.75,"lo":0.51,"hi":0.61},{"p":18,"k":"d","w":9,"lo":0.52,"hi":0.62},{"p":18,"k":"d","w":9.25,"lo":0.52,"hi":0.62},{"p":18,"k":"d","w":9.5,"lo":0.52,"hi":0.62},{"p":18,"k":"d","w":9.75,"lo":0.51,"hi":0.61},{"p":18,"k":"d","w":10,"lo":0.50,"hi":0.60},{"p":18,"k":"d","w":10.25,"lo":0.49,"hi":0.58},{"p":18,"k":"d","w":10.5,"lo":0.48,"hi":0.56},{"p":18,"k":"d","w":10.75,"lo":0.46,"hi":0.55},{"p":18,"k":"d","w":11,"lo":0.45,"hi":0.54},{"p":18,"k":"d","w":11.25,"lo":0.44,"hi":0.54},{"p":18,"k":"d","w":11.5,"lo":0.43,"hi":0.54},{"p":18,"k":"d","w":11.75,"lo":0.43,"hi":0.54},{"p":18,"k":"d","w":12,"lo":0.42,"hi":0.54},{"p":18,"k":"d","w":12.25,"lo":0.42,"hi":0.55},{"p":18,"k":"d","w":12.5,"lo":0.42,"hi":0.55},{"p":18,"k":"d","w":12.75,"lo":0.42,"hi":0.55},{"p":18,"k":"d","w":13,"lo":0.42,"hi":0.55}
]},
"facet":{"field":"p","type":"ordinal","title":null,"header":{"title":null,"labels":false,"labelExpr":"''","labelFontSize":0.01,"labelPadding":0,"titlePadding":0}},
"columns":5,
"bounds":"flush",
"spacing":{"row":26,"column":18},
"resolve":{"axis":{"x":"independent","y":"independent"}},
"spec":{
 "width":100,"height":64,
 "layer":[
  {"transform":[{"filter":"datum.k == 'd'"}],
   "mark":{"type":"area","color":"#e4e4e4","opacity":1,"interpolate":"monotone"},
   "encoding":{
    "x":{"field":"w","type":"quantitative","scale":{"domain":[8,13],"nice":false,"zero":false},
         "axis":{"title":"Wavelength [μm]","values":[8,9,10,11,12,13],"format":"d","labelOverlap":false}},
    "y":{"field":"lo","type":"quantitative","scale":{"domain":[0,1],"nice":false},
         "axis":{"title":"Visibility","values":[0,0.2,0.4,0.6,0.8,1.0],"format":".1f","labelOverlap":false}},
    "y2":{"field":"hi"}
   }},
  {"transform":[{"filter":"datum.k == 'd'"}],
   "mark":{"type":"rule","color":"#cdcdcd","strokeWidth":0.6},
   "encoding":{
    "x":{"field":"w","type":"quantitative","axis":{"title":"Wavelength [μm]","values":[8,9,10,11,12,13],"format":"d","labelOverlap":false}},
    "y":{"field":"lo","type":"quantitative","axis":{"title":"Visibility","values":[0,0.2,0.4,0.6,0.8,1.0],"format":".1f","labelOverlap":false}},
    "y2":{"field":"hi"}}},
  {"transform":[{"filter":"datum.k == 'm'"}],
   "mark":{"type":"line","color":"#222","strokeWidth":1,"interpolate":"monotone"},
   "encoding":{
    "x":{"field":"w","type":"quantitative","axis":{"title":"Wavelength [μm]","values":[8,9,10,11,12,13],"format":"d","labelOverlap":false}},
    "y":{"field":"v","type":"quantitative","axis":{"title":"Visibility","values":[0,0.2,0.4,0.6,0.8,1.0],"format":".1f","labelOverlap":false}}}},
  {"transform":[{"filter":"datum.k == 'l'"}],
   "mark":{"type":"text","align":"left","baseline":"middle","fontSize":5.5,"color":"#999"},
   "encoding":{
    "x":{"datum":8.5,"type":"quantitative","axis":{"title":"Wavelength [μm]","values":[8,9,10,11,12,13],"format":"d","labelOverlap":false}},
    "y":{"datum":0.24,"type":"quantitative","axis":{"title":"Visibility","values":[0,0.2,0.4,0.6,0.8,1.0],"format":".1f","labelOverlap":false}},
    "text":{"field":"b"}}},
  {"transform":[{"filter":"datum.k == 'l'"}],
   "mark":{"type":"text","align":"left","baseline":"middle","fontSize":5.5,"color":"#999"},
   "encoding":{
    "x":{"datum":8.5,"type":"quantitative","axis":{"title":"Wavelength [μm]","values":[8,9,10,11,12,13],"format":"d","labelOverlap":false}},
    "y":{"datum":0.155,"type":"quantitative","axis":{"title":"Visibility","values":[0,0.2,0.4,0.6,0.8,1.0],"format":".1f","labelOverlap":false}},
    "text":{"field":"pa"}}},
  {"transform":[{"filter":"datum.k == 'l'"}],
   "mark":{"type":"text","align":"left","baseline":"middle","fontSize":5.5,"color":"#999"},
   "encoding":{
    "x":{"datum":8.5,"type":"quantitative","axis":{"title":"Wavelength [μm]","values":[8,9,10,11,12,13],"format":"d","labelOverlap":false}},
    "y":{"datum":0.07,"type":"quantitative","axis":{"title":"Visibility","values":[0,0.2,0.4,0.6,0.8,1.0],"format":".1f","labelOverlap":false}},
    "text":{"field":"ph"}}},
  {"transform":[{"filter":"datum.k == 'l'"}],
   "mark":{"type":"text","align":"right","baseline":"middle","fontSize":5.5,"color":"#999"},
   "encoding":{
    "x":{"datum":12.75,"type":"quantitative","axis":{"title":"Wavelength [μm]","values":[8,9,10,11,12,13],"format":"d","labelOverlap":false}},
    "y":{"datum":0.09,"type":"quantitative","axis":{"title":"Visibility","values":[0,0.2,0.4,0.6,0.8,1.0],"format":".1f","labelOverlap":false}},
    "text":{"field":"n"}}}
 ]
},
"config":{
 "font":"DejaVu Sans",
 "header":{"labels":false,"title":null},
 "view":{"stroke":"#aaa","strokeWidth":0.6},
 "axis":{"grid":false,"labelFontSize":5,"titleFontSize":5,"titleFontWeight":"normal","labelColor":"#888","titleColor":"#888","domainColor":"#aaa","domainWidth":0.6,"tickColor":"#aaa","tickWidth":0.6,"tickSize":2,"labelPadding":1,"titlePadding":1,"labelFlush":false}
}
}
